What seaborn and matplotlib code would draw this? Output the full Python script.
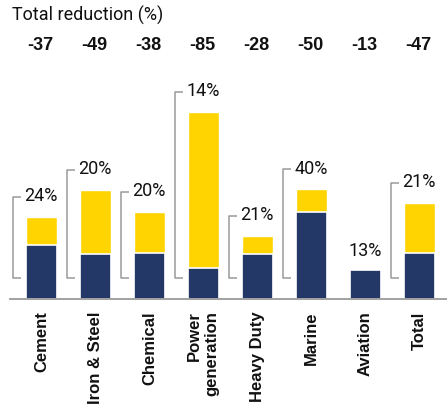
import matplotlib
matplotlib.use("Agg")
import matplotlib.pyplot as plt
import numpy as np
import pandas as pd
import seaborn as sns

# data (heights in chart units)
sectors = ["Cement", "Iron & Steel", "Chemical", "Power\ngeneration",
           "Heavy Duty", "Marine", "Aviation", "Total"]
remaining = [54, 45, 46, 31, 45, 87, 29, 46]
total = [82, 109, 87, 187, 63, 110, 29, 96]
share_labels = ["24%", "20%", "20%", "14%", "21%", "40%", "13%", "21%"]
total_reduction = ["-37", "-49", "-38", "-85", "-28", "-50", "-13", "-47"]

NAVY = "#243868"
YELLOW = "#FFD400"
GREY = "#9a9a9a"

sns.set_theme(style="white")
plt.rcParams["font.family"] = ["Roboto", "DejaVu Sans"]

df = pd.DataFrame({"sector": sectors, "remaining": remaining, "total": total})

fig = plt.figure(figsize=(4.47, 4.06), dpi=100)
ax = fig.add_axes([10 / 447, 106.5 / 406, 437 / 447, 299.5 / 406])

sns.barplot(data=df, x="sector", y="total", color=YELLOW, saturation=1,
            width=0.574, ax=ax)
sns.barplot(data=df, x="sector", y="remaining", color=NAVY, saturation=1,
            width=0.574, edgecolor="white", linewidth=1.2, ax=ax)

ax.set_xlim(-0.583, 7.509)
ax.set_ylim(0, 299.5)
ax.set_xlabel("")
ax.set_ylabel("")
ax.set_yticks([])
for s in ["top", "right", "left"]:
    ax.spines[s].set_visible(False)
ax.spines["bottom"].set_color(GREY)
ax.spines["bottom"].set_linewidth(1.3)
ax.tick_params(axis="x", length=0, pad=8.5)
ax.set_xticks(range(len(sectors)))
ax.set_xticklabels(sectors, rotation=90, fontsize=12, fontweight="bold",
                   family="Liberation Sans", color="#111111", ma="right")

# brackets + share labels
gap_top = 20
bracket_bottom = 21
for i, (t, lab) in enumerate(zip(total, share_labels)):
    if sectors[i] == "Aviation":
        ax.text(i, t + 19, lab, ha="center", va="center", fontsize=13,
                color="#111111")
        continue
    bx = i - 0.528
    top = t + gap_top
    ax.plot([bx + 0.15, bx, bx, bx + 0.15],
            [top, top, bracket_bottom, bracket_bottom],
            color=GREY, lw=1.1, solid_capstyle="butt", clip_on=False)
    ax.text(bx + 0.21, top + 1, lab, ha="left", va="center", fontsize=13,
            color="#111111")

# header
ax.text(-0.552, 283.8, "Total reduction (%)", ha="left", va="center",
        fontsize=13, color="#111111")
for i, v in enumerate(total_reduction):
    ax.text(i - 0.02, 253.8, v, ha="center", va="center", fontsize=13,
            fontweight="bold", family="Liberation Sans", color="#111111")

fig.savefig("out.png", dpi=100)
